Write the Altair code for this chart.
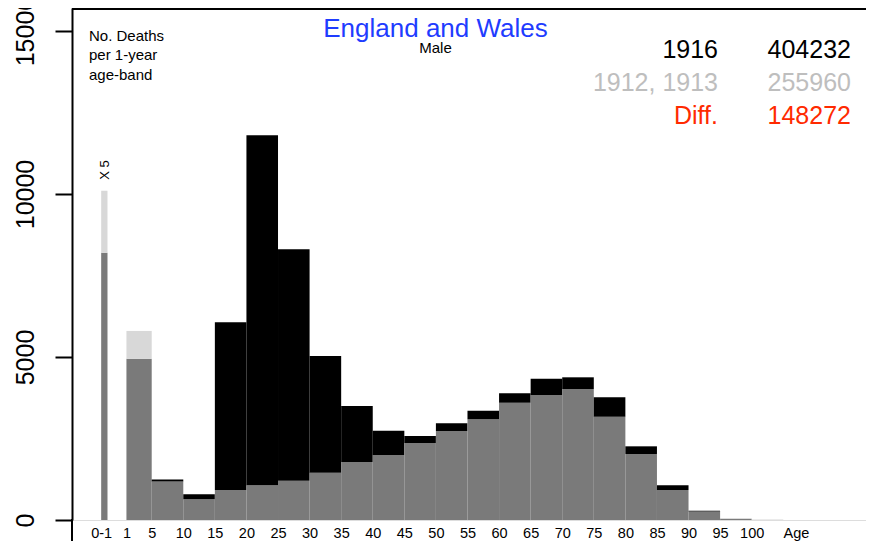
import altair as alt
import pandas as pd

# ---- data (deaths per 1-year age band, males, England and Wales) ----
band_labels = ["0-1", "1-4", "5-9", "10-14", "15-19", "20-24", "25-29", "30-34", "35-39",
               "40-44", "45-49", "50-54", "55-59", "60-64", "65-69", "70-74", "75-79",
               "80-84", "85-89", "90-94", "95-99", "100+"]
# plotting position of each band on the age axis (the 0-1 band is drawn apart, scaled / 5)
band_start = [-3, 1, 5, 10, 15, 20, 25, 30, 35, 40, 45, 50, 55, 60, 65, 70, 75, 80, 85, 90, 95, 100]
band_end = [-2, 5, 10, 15, 20, 25, 30, 35, 40, 45, 50, 55, 60, 65, 70, 75, 80, 85, 90, 95, 100, 105]
deaths_1916 = [8200, 4950, 1240, 790, 6064, 11800, 8303, 5031, 3497, 2740, 2577, 2966, 3353,
               3886, 4335, 4377, 3763, 2260, 1064, 280, 35, 3]
deaths_1912_13 = [10100, 5800, 1180, 640, 920, 1064, 1206, 1451, 1779, 1994, 2362, 2730, 3089,
                  3599, 3834, 4018, 3170, 2025, 920, 260, 30, 12]

tick_values = [-3, 1, 5, 10, 15, 20, 25, 30, 35, 40, 45, 50, 55, 60, 65, 70, 75, 80, 85, 90, 95, 100, 107]
y_ticks = [0, 5000, 10000, 15000]

total_1916 = "404232"
total_base = "255960"
total_diff = "148272"

# ---- build segment table ----
rows = []
for lab, s, e, a, b in zip(band_labels, band_start, band_end, deaths_1916, deaths_1912_13):
    lo = min(a, b)
    rows.append(dict(band=lab, x=s, x2=e, y=0, y2=lo, part="common"))
    if a > b:
        rows.append(dict(band=lab, x=s, x2=e, y=b, y2=a, part="excess 1916"))
    elif b > a:
        rows.append(dict(band=lab, x=s, x2=e, y=a, y2=b, part="excess 1912-13"))
seg = pd.DataFrame(rows)
one = pd.DataFrame({"k": [0]})

W, H = 794, 512
FONT = "Liberation Sans"

x_scale = alt.Scale(domain=[-7.62, 118.1], nice=False, zero=False)
y_scale = alt.Scale(domain=[0, 15706], nice=False, zero=True)

bars = alt.Chart(seg).mark_rect().encode(
    x=alt.X("x:Q", scale=x_scale,
            axis=alt.Axis(values=tick_values, title=None, domain=False, ticks=False, grid=False,
                          labelExpr="datum.value == -3 ? '0-1' : (datum.value == 107 ? 'Age' : datum.label)",
                          format="d", labelOverlap=False, labelFlush=False, labelFontSize=14.5,
                          labelFont=FONT, labelColor="black", labelPadding=6)),
    x2="x2:Q",
    y=alt.Y("y:Q", scale=y_scale,
            axis=alt.Axis(values=y_ticks, title=None, grid=False, domainColor="black", domainWidth=2,
                          tickColor="black", tickWidth=2, tickSize=17, labelAngle=270,
                          labelAlign="center", labelBaseline="alphabetic", labelPadding=22,
                          labelFontSize=25, labelFont=FONT, labelColor="black", format="d",
                          labelOverlap=False, labelFlush=False)),
    y2="y2:Q",
    color=alt.Color("part:N", legend=None,
                    scale=alt.Scale(domain=["common", "excess 1916", "excess 1912-13"],
                                    range=["#7a7a7a", "#000000", "#d8d8d8"])),
)

top_frame = alt.Chart(one).mark_rule(color="black", strokeWidth=2).encode(
    x=alt.value(0), x2=alt.value(W), y=alt.value(1))
left_ext = alt.Chart(one).mark_rule(color="black", strokeWidth=2).encode(
    x=alt.value(0), y=alt.value(H - 1), y2=alt.value(H + 21))

def txt(text, x, y, size, color="black", align="left", angle=0, baseline="alphabetic"):
    return alt.Chart(one).mark_text(text=text, font=FONT, fontSize=size, color=color,
                                    align=align, baseline=baseline, angle=angle).encode(
        x=alt.value(x), y=alt.value(y))

texts = [
    txt("England and Wales", 363.5, 28.7, 26, color="#1f3cff", align="center"),
    txt("Male", 363.5, 45, 15, align="center"),
    txt("No. Deaths", 17, 32.7, 15),
    txt("per 1-year", 17, 52, 15),
    txt("age-band", 17, 71.5, 15),
    txt("1916", 646, 50, 25, align="right"),
    txt(total_1916, 779, 50, 25, align="right"),
    txt("1912, 1913", 646, 83, 25, color="#bebebe", align="right"),
    txt(total_base, 779, 83, 25, color="#bebebe", align="right"),
    txt("Diff.", 646, 116, 25, color="#ff2a00", align="right"),
    txt(total_diff, 779, 116, 25, color="#ff2a00", align="right"),
    txt("X 5", 33, 162, 13, align="center", angle=270, baseline="middle"),
]

chart = alt.layer(bars, top_frame, left_ext, *texts).properties(
    width=W, height=H,
    autosize=alt.AutoSizeParams(type="none"),
    padding={"left": 64, "top": 0, "right": 0, "bottom": 21},
).configure_view(stroke=None).configure(background="white")

chart.save("out.html", embed_options={"renderer": "svg", "actions": False})
